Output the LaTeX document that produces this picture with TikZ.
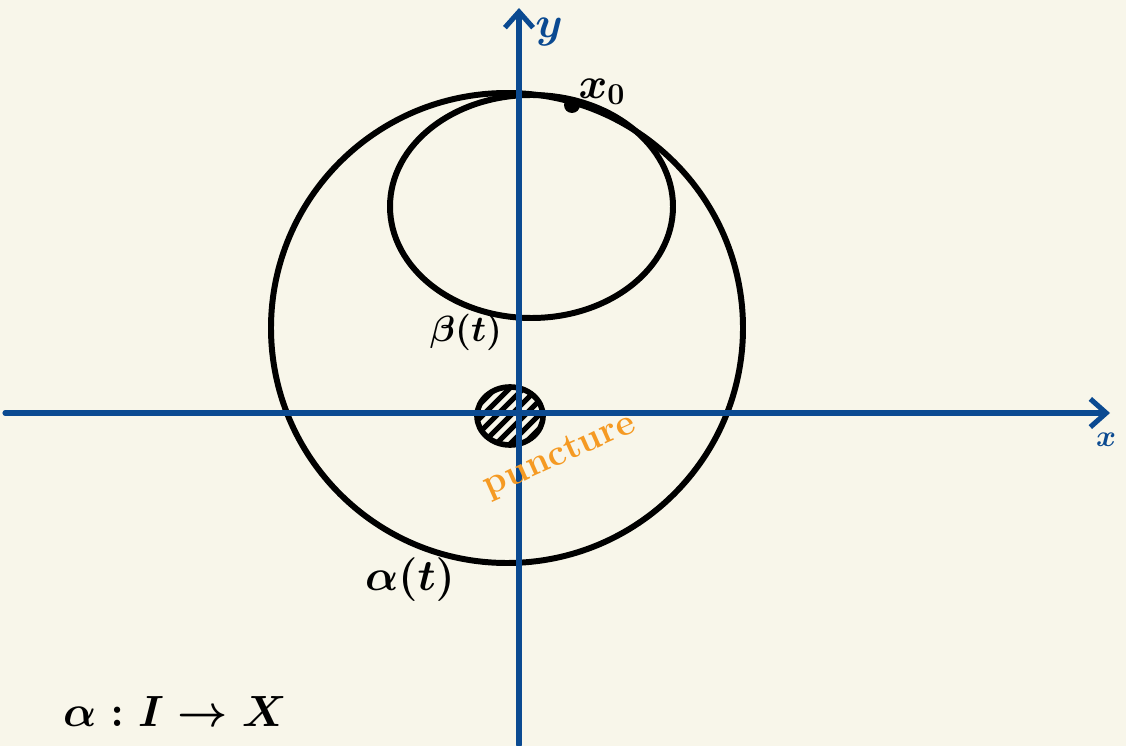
\documentclass[tikz,border=0pt]{standalone}
\usepackage{amsmath,amssymb,bm}
\usetikzlibrary{arrows.meta}
\definecolor{bgcol}{HTML}{F8F6EA}
\definecolor{axisblue}{HTML}{0B4A91}
\definecolor{punctorange}{HTML}{F59A23}
\begin{document}
\begin{tikzpicture}[x=0.02cm,y=-0.02cm,
  axisline/.style={draw=axisblue,line width=2.9pt,line cap=round,-{Straight Barb[length=9pt,width=16pt,line width=2.9pt]}},
  curve/.style={draw=black,line width=3.4pt},
  lbl/.style={text=black,inner sep=0pt},
]
\fill[bgcol] (0,0) rectangle (1126,746);
\useasboundingbox (0,0) rectangle (1126,746);
% axes
\coordinate (xs) at (5,413);
\coordinate (xe) at (1110,413);
\coordinate (ys) at (519,745);
\coordinate (ye) at (519,8);
% circles
\draw[curve] (507,328) circle[x radius=236, y radius=235];
\draw[curve] (531.5,206.5) ellipse[x radius=141.5, y radius=111.5];
% puncture hatching
\begin{scope}
  \clip (510,416) ellipse[x radius=33, y radius=29];
  \foreach \i in {-70,-56,...,70}
    \draw[line width=3pt] ({510+\i-45},{416+45}) -- ({510+\i+45},{416-45});
\end{scope}
\draw[curve,line width=3.2pt] (510,416) ellipse[x radius=33, y radius=29];
\draw[axisline] (xs) -- (xe);
\draw[axisline] (ys) -- (ye);
% x0 point
\fill[black] (572,105) circle[radius=8];
\node[lbl,font=\boldmath\fontsize{24}{26}\selectfont] (x0) at (602,92) {$x_0$};
\node[lbl,font=\boldmath\fontsize{22}{24}\selectfont] (beta) at (466,332) {$\beta(t)$};
\node[lbl,font=\boldmath\fontsize{26}{28}\selectfont] (alpha) at (410,580) {$\alpha(t)$};
\node[lbl,font=\boldmath\fontsize{26}{30}\selectfont] (map) at (175,712) {$\alpha : I \to X$};
\node[lbl,text=axisblue,font=\fontsize{24}{26}\selectfont] (ylab) at (549,32) {$\bm{y}$};
\node[lbl,text=axisblue,font=\fontsize{16}{18}\selectfont] (xlab) at (1106,440) {$\bm{x}$};
\node[lbl,text=punctorange,rotate=24,font=\bfseries\fontsize{21}{24}\selectfont] (punct) at (560,456) {puncture};
\end{tikzpicture}
\end{document}
